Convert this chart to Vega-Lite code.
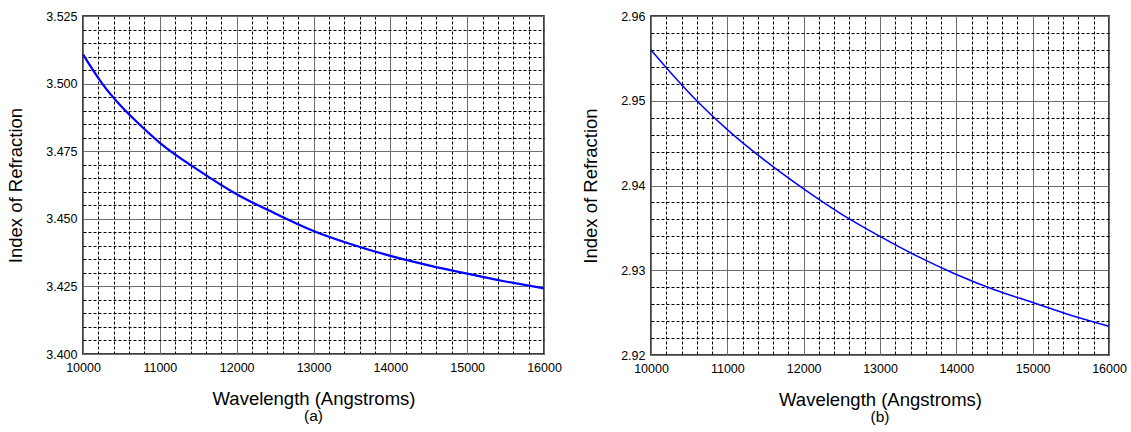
{
  "$schema": "https://vega.github.io/schema/vega-lite/v6.json",
  "padding": {"left": 5, "top": 9, "right": 10, "bottom": 2},
  "background": "#ffffff",
  "spacing": 17,
  "config": {
    "view": {"stroke": "#000000", "strokeWidth": 1.5},
    "font": "Liberation Sans",
    "axis": {
      "labelFont": "Liberation Sans",
      "labelFontSize": 12.5,
      "labelColor": "#000000",
      "labelFlush": false,
      "labelOverlap": false,
      "titleFont": "Liberation Sans",
      "titleFontWeight": "normal",
      "titleColor": "#000000",
      "titleFontSize": 18.5,
      "domain": false,
      "ticks": false,
      "tickSize": 0
    }
  },
  "hconcat": [
    {
      "width": 461,
      "height": 338,
      "title": {"text": "(a)", "font": "Liberation Sans", "fontSize": 15.5, "fontWeight": "normal", "color": "#000000", "orient": "bottom", "anchor": "middle", "offset": 1},
      "data": {"values": [
        {"w": 10000, "n": 3.5108},
        {"w": 10250, "n": 3.5000},
        {"w": 10500, "n": 3.4915},
        {"w": 10750, "n": 3.4845},
        {"w": 11000, "n": 3.4781},
        {"w": 11500, "n": 3.4680},
        {"w": 12000, "n": 3.4591},
        {"w": 12500, "n": 3.4520},
        {"w": 13000, "n": 3.4455},
        {"w": 13500, "n": 3.4405},
        {"w": 14000, "n": 3.4363},
        {"w": 14500, "n": 3.4328},
        {"w": 15000, "n": 3.4297},
        {"w": 15500, "n": 3.4268},
        {"w": 16000, "n": 3.4243}
      ]},
      "layer": [
        {
          "mark": {"type": "line", "strokeOpacity": 0},
          "encoding": {
            "x": {"field": "w", "type": "quantitative", "scale": {"domain": [10000, 16000], "nice": false, "zero": false},
              "axis": {"orient": "bottom", "values": [10200, 10400, 10600, 10800, 11200, 11400, 11600, 11800, 12200, 12400, 12600, 12800, 13200, 13400, 13600, 13800, 14200, 14400, 14600, 14800, 15200, 15400, 15600, 15800],
                "grid": true, "gridColor": "#000000", "gridDash": [3, 2], "gridWidth": 1, "labels": false, "title": null}},
            "y": {"field": "n", "type": "quantitative", "scale": {"domain": [3.4, 3.525], "nice": false, "zero": false},
              "axis": {"orient": "left", "values": [3.405, 3.41, 3.415, 3.42, 3.43, 3.435, 3.44, 3.445, 3.455, 3.46, 3.465, 3.47, 3.48, 3.485, 3.49, 3.495, 3.505, 3.51, 3.515, 3.52],
                "grid": true, "gridColor": "#000000", "gridDash": [3, 2], "gridWidth": 1, "labels": false, "title": null}}
          }
        },
        {
          "mark": {"type": "line", "color": "#0000ff", "strokeWidth": 2.2, "interpolate": "monotone"},
          "encoding": {
            "x": {"field": "w", "type": "quantitative", "scale": {"domain": [10000, 16000], "nice": false, "zero": false},
              "axis": {"orient": "bottom", "values": [10000, 11000, 12000, 13000, 14000, 15000, 16000], "format": "d",
                "grid": true, "gridColor": "#6e6e6e", "gridWidth": 1, "labelPadding": 7, "title": "Wavelength (Angstroms)", "titlePadding": 16}},
            "y": {"field": "n", "type": "quantitative", "scale": {"domain": [3.4, 3.525], "nice": false, "zero": false},
              "axis": {"orient": "left", "values": [3.4, 3.425, 3.45, 3.475, 3.5, 3.525], "format": ".3f",
                "grid": true, "gridColor": "#6e6e6e", "gridWidth": 1, "labelPadding": 6, "title": "Index of Refraction", "titlePadding": 20}}
          }
        }
      ],
      "resolve": {"axis": {"x": "independent", "y": "independent"}}
    },
    {
      "width": 458,
      "height": 339,
      "title": {"text": "(b)", "font": "Liberation Sans", "fontSize": 15.5, "fontWeight": "normal", "color": "#000000", "orient": "bottom", "anchor": "middle", "offset": 1},
      "data": {"values": [
        {"w": 10000, "n": 2.9560},
        {"w": 10300, "n": 2.9529},
        {"w": 10600, "n": 2.9500},
        {"w": 11000, "n": 2.9466},
        {"w": 11500, "n": 2.9429},
        {"w": 12000, "n": 2.9396},
        {"w": 12500, "n": 2.9366},
        {"w": 13000, "n": 2.9340},
        {"w": 13500, "n": 2.9316},
        {"w": 14000, "n": 2.9295},
        {"w": 14500, "n": 2.9277},
        {"w": 15000, "n": 2.9262},
        {"w": 15500, "n": 2.9247},
        {"w": 16000, "n": 2.9234}
      ]},
      "layer": [
        {
          "mark": {"type": "line", "strokeOpacity": 0},
          "encoding": {
            "x": {"field": "w", "type": "quantitative", "scale": {"domain": [10000, 16000], "nice": false, "zero": false},
              "axis": {"orient": "bottom", "values": [10200, 10400, 10600, 10800, 11200, 11400, 11600, 11800, 12200, 12400, 12600, 12800, 13200, 13400, 13600, 13800, 14200, 14400, 14600, 14800, 15200, 15400, 15600, 15800],
                "grid": true, "gridColor": "#000000", "gridDash": [3, 2], "gridWidth": 1, "labels": false, "title": null}},
            "y": {"field": "n", "type": "quantitative", "scale": {"domain": [2.92, 2.96], "nice": false, "zero": false},
              "axis": {"orient": "left", "values": [2.922, 2.924, 2.926, 2.928, 2.932, 2.934, 2.936, 2.938, 2.942, 2.944, 2.946, 2.948, 2.952, 2.954, 2.956, 2.958],
                "grid": true, "gridColor": "#000000", "gridDash": [3, 2], "gridWidth": 1, "labels": false, "title": null}}
          }
        },
        {
          "mark": {"type": "line", "color": "#0000ff", "strokeWidth": 1.5, "interpolate": "monotone"},
          "encoding": {
            "x": {"field": "w", "type": "quantitative", "scale": {"domain": [10000, 16000], "nice": false, "zero": false},
              "axis": {"orient": "bottom", "values": [10000, 11000, 12000, 13000, 14000, 15000, 16000], "format": "d",
                "grid": true, "gridColor": "#6e6e6e", "gridWidth": 1, "labelPadding": 7, "title": "Wavelength (Angstroms)", "titlePadding": 16}},
            "y": {"field": "n", "type": "quantitative", "scale": {"domain": [2.92, 2.96], "nice": false, "zero": false},
              "axis": {"orient": "left", "values": [2.92, 2.93, 2.94, 2.95, 2.96], "format": ".2f",
                "grid": true, "gridColor": "#6e6e6e", "gridWidth": 1, "labelPadding": 6, "title": "Index of Refraction", "titlePadding": 20}}
          }
        }
      ],
      "resolve": {"axis": {"x": "independent", "y": "independent"}}
    }
  ]
}
